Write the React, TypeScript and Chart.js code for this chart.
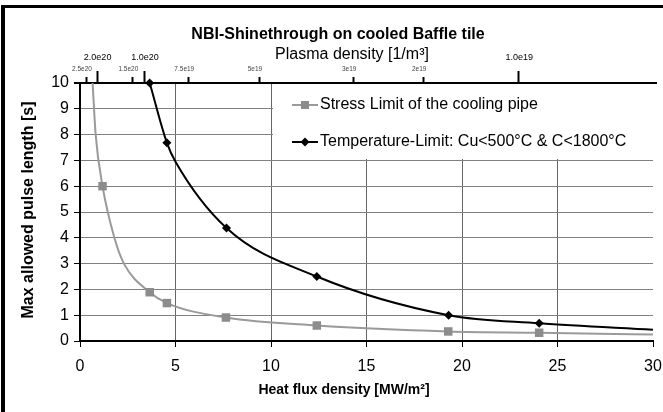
import React, { useEffect, useRef } from "react";
import { Chart, registerables } from "chart.js";

Chart.register(...registerables);

// ---- data ----
const stressMarkerFlux = [1.18, 3.65, 4.55, 7.64, 12.4, 19.28, 24.04];
const stressMarkerPulse = [6.0, 1.89, 1.47, 0.91, 0.6, 0.37, 0.32];
const stressCurveFlux = [0.66, 0.82, 1.18, 1.8, 2.3, 3.65, 4.55, 7.64, 12.4, 19.28, 24.04, 30];
const stressCurvePulse = [10, 8.0, 6.0, 4.0, 3.0, 1.89, 1.47, 0.91, 0.6, 0.37, 0.32, 0.25];

const tempMarkerFlux = [3.65, 4.55, 7.67, 12.4, 19.3, 24.04];
const tempMarkerPulse = [10, 7.68, 4.38, 2.5, 1.0, 0.69];
const tempCurveFlux = [3.65, 4.55, 5.0, 7.67, 12.4, 19.3, 24.04, 30];
const tempCurvePulse = [10, 7.68, 6.95, 4.38, 2.5, 1.0, 0.69, 0.44];

const densityMajorLabels = ["2.0e20", "1.0e20", "1.0e19"];
const densityMajorFlux = [0.87, 3.35, 22.95];
const densityMinorLabels = ["2.5e20", "1.5e20", "7.5e19", "5e19", "3e19", "2e19"];
const densityMinorFlux = [0.31, 2.74, 5.67, 9.37, 14.3, 17.97];

const seriesNames = ["Stress Limit of the cooling pipe", "Temperature-Limit: Cu<500°C & C<1800°C"];
const chartTitle = "NBI-Shinethrough on cooled Baffle tile";
const topAxisTitle = "Plasma density [1/m³]";
const xAxisTitle = "Heat flux density [MW/m²]";
const yAxisTitle = "Max allowed pulse length [s]";

const FONT = "'Liberation Sans', Arial, Helvetica, sans-serif";
const GRAY_LINE = "#9a9a9a";
const GRAY_MARK = "#8c8c8c";

const pts = (xs: number[], ys: number[]) => xs.map((x, i) => ({ x, y: ys[i] }));

const overlay = {
  id: "overlay",
  beforeDatasetsDraw(chart: any) {
    const { ctx, chartArea } = chart;
    const xs = chart.scales.x;
    ctx.save();
    // legend background
    ctx.fillStyle = "#fff";
    const lx = xs.getPixelForValue(10) + 2;
    ctx.fillRect(lx, chartArea.top + 1, chartArea.right + 4 - lx, 158 - chartArea.top);
    // top axis line
    ctx.strokeStyle = "#000";
    ctx.lineWidth = 2;
    ctx.beginPath();
    ctx.moveTo(chartArea.left - 6, chartArea.top);
    ctx.lineTo(chartArea.right + 4, chartArea.top);
    ctx.stroke();
    // density ticks
    densityMajorFlux.forEach((f) => {
      const px = Math.round(xs.getPixelForValue(f)) + 0.5;
      ctx.beginPath();
      ctx.moveTo(px, chartArea.top);
      ctx.lineTo(px, chartArea.top - 12);
      ctx.stroke();
    });
    densityMinorFlux.forEach((f) => {
      const px = Math.round(xs.getPixelForValue(f)) + 0.5;
      ctx.beginPath();
      ctx.moveTo(px, chartArea.top);
      ctx.lineTo(px, chartArea.top - 6);
      ctx.stroke();
    });
    ctx.restore();
  },
  afterDraw(chart: any) {
    const { ctx, chartArea } = chart;
    const xs = chart.scales.x;
    ctx.save();
    ctx.fillStyle = "#000";
    ctx.textAlign = "center";
    ctx.textBaseline = "middle";
    ctx.font = `bold 16px ${FONT}`;
    ctx.fillText(chartTitle, 338, 35);
    ctx.font = `16px ${FONT}`;
    ctx.fillText(topAxisTitle, 352, 55);
    // density labels
    ctx.font = `9px ${FONT}`;
    densityMajorLabels.forEach((t, i) => {
      ctx.fillText(t, xs.getPixelForValue(densityMajorFlux[i]) + 1, 58);
    });
    ctx.fillStyle = "#444";
    ctx.font = `6.5px ${FONT}`;
    densityMinorLabels.forEach((t, i) => {
      ctx.fillText(t, xs.getPixelForValue(densityMinorFlux[i]) - 4, 69);
    });
    // axis titles
    ctx.fillStyle = "#000";
    ctx.font = `bold 14px ${FONT}`;
    ctx.fillText(xAxisTitle, 344, 390);
    ctx.save();
    ctx.translate(29, (chartArea.top + chartArea.bottom) / 2 - 2);
    ctx.rotate(-Math.PI / 2);
    ctx.font = `bold 16px ${FONT}`;
    ctx.fillText(yAxisTitle, 0, 0);
    ctx.restore();
    // legend
    const rows = [
      { y: 105, color: GRAY_LINE, mark: GRAY_MARK, style: "rect" },
      { y: 142, color: "#000", mark: "#000", style: "rectRot" },
    ];
    rows.forEach((r, i) => {
      ctx.strokeStyle = r.color;
      ctx.lineWidth = 2;
      ctx.beginPath();
      ctx.moveTo(292, r.y);
      ctx.lineTo(318, r.y);
      ctx.stroke();
      ctx.fillStyle = r.mark;
      if (r.style === "rect") {
        ctx.fillRect(301, r.y - 4, 8, 8);
      } else {
        ctx.beginPath();
        ctx.moveTo(305, r.y - 4.5);
        ctx.lineTo(309.5, r.y);
        ctx.lineTo(305, r.y + 4.5);
        ctx.lineTo(300.5, r.y);
        ctx.closePath();
        ctx.fill();
      }
      ctx.fillStyle = "#000";
      ctx.textAlign = "left";
      ctx.font = `16px ${FONT}`;
      ctx.fillText(seriesNames[i], 320, r.y);
    });
    // frame
    ctx.fillStyle = "#000";
    ctx.fillRect(1, 5, 4, 412);
    ctx.fillRect(1, 5, 662, 3);
    ctx.restore();
  },
};

export default function App() {
  const ref = useRef<HTMLCanvasElement>(null);
  useEffect(() => {
    const canvas = ref.current!;
    const chart = new Chart(canvas, {
      type: "scatter",
      data: {
        datasets: [
          {
            label: seriesNames[1] + " markers",
            data: pts(tempMarkerFlux, tempMarkerPulse),
            showLine: false,
            pointStyle: "rectRot",
            pointRadius: 4.5,
            backgroundColor: "#000",
            borderColor: "#000",
            borderWidth: 0,
            clip: false,
            order: 1,
          } as any,
          {
            label: seriesNames[1],
            data: pts(tempCurveFlux, tempCurvePulse),
            showLine: true,
            borderColor: "#000",
            borderWidth: 2,
            pointRadius: 0,
            cubicInterpolationMode: "monotone",
            clip: false,
            order: 2,
          } as any,
          {
            label: seriesNames[0] + " markers",
            data: pts(stressMarkerFlux, stressMarkerPulse),
            showLine: false,
            pointStyle: "rect",
            pointRadius: 6,
            backgroundColor: GRAY_MARK,
            borderColor: GRAY_MARK,
            borderWidth: 0,
            clip: false,
            order: 3,
          } as any,
          {
            label: seriesNames[0],
            data: pts(stressCurveFlux, stressCurvePulse),
            showLine: true,
            borderColor: GRAY_LINE,
            borderWidth: 2,
            pointRadius: 0,
            cubicInterpolationMode: "monotone",
            clip: false,
            order: 4,
          } as any,
        ],
      },
      options: {
        responsive: false,
        animation: false,
        events: [],
        layout: { padding: { top: 83, right: 0, left: 0, bottom: 0 } },
        plugins: { legend: { display: false }, tooltip: { enabled: false }, title: { display: false } },
        scales: {
          x: {
            type: "linear",
            min: 0,
            max: 30,
            afterFit: (s: any) => {
              s.height = 71;
              s.paddingRight = 10;
              s.paddingLeft = 0;
            },
            ticks: { stepSize: 5, color: "#000", padding: 10, font: { family: FONT, size: 16 } },
            grid: {
              color: (c: any) => (c.tick && c.tick.value === 30 ? "rgba(0,0,0,0)" : "#666"),
              tickColor: "#000",
              tickLength: 6,
              lineWidth: 1,
            },
            border: { display: true, color: "#000", width: 2 },
          },
          y: {
            type: "linear",
            min: 0,
            max: 10,
            afterFit: (s: any) => {
              s.width = 80;
            },
            ticks: { stepSize: 1, color: "#000", padding: 5, font: { family: FONT, size: 16 } },
            grid: { color: "#808080", tickColor: "#000", tickLength: 6, lineWidth: 1 },
            border: { display: true, color: "#000", width: 2 },
          },
        },
      },
      plugins: [overlay],
    } as any);
    return () => chart.destroy();
  }, []);
  return (
    <div style={{ position: "fixed", left: 0, top: 0, width: 663, height: 412, background: "#fff" }}>
      <canvas ref={ref} width={663} height={412} style={{ display: "block", width: 663, height: 412 }} />
    </div>
  );
}
